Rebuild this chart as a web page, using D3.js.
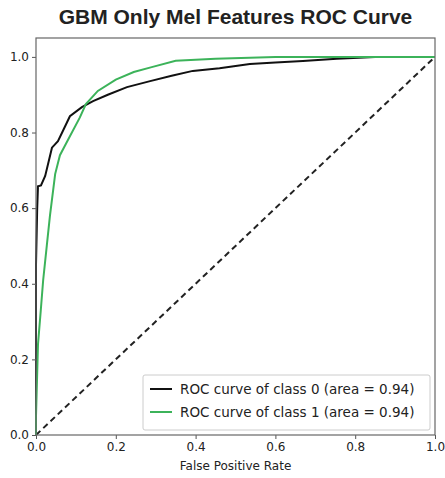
<!DOCTYPE html>
<html>
<head>
	<meta charset="utf-8">
	<script src="https://cdn.jsdelivr.net/npm/d3@7"></script>
</head>
<style type="text/css">
	body {margin:0; background:#fff;}
	text {font-family:"DejaVu Sans", sans-serif; fill:#222;}
</style>
<body>
</body>
</html>
<script type="text/javascript">
	var width = 445, height = 478;
	var margin = {left:36, right:10, top:38, bottom:43};

	// ROC points
	var fpr0 = [0, 0, 0.003, 0.005, 0.0125, 0.023, 0.04, 0.055, 0.07, 0.085, 0.115, 0.143, 0.18, 0.228, 0.286, 0.34, 0.393, 0.46, 0.536, 0.6, 0.669, 0.754, 0.85, 1];
	var tpr0 = [0, 0.45, 0.6, 0.658, 0.66, 0.685, 0.76, 0.777, 0.81, 0.843, 0.867, 0.883, 0.9, 0.92, 0.936, 0.95, 0.963, 0.97, 0.981, 0.985, 0.989, 0.995, 1, 1];
	var fpr1 = [0, 0, 0.005, 0.012, 0.018, 0.027, 0.035, 0.048, 0.06, 0.08, 0.11, 0.125, 0.155, 0.2, 0.245, 0.29, 0.35, 0.45, 0.6, 1];
	var tpr1 = [0, 0.05, 0.24, 0.33, 0.41, 0.5, 0.58, 0.69, 0.74, 0.78, 0.84, 0.875, 0.91, 0.94, 0.96, 0.973, 0.99, 0.995, 1, 1];
	var labels = ["ROC curve of class 0 (area = 0.94)", "ROC curve of class 1 (area = 0.94)"];
	var colors = ["#111111", "#3cb35a"];
	var ticks = [0, 0.2, 0.4, 0.6, 0.8, 1.0];

	var w = width - margin.left - margin.right;
	var h = height - margin.top - margin.bottom;
	var svg = d3.select("body").append("svg").attr("width", width).attr("height", height);
	var g = svg.append("g").attr("transform", "translate(" + margin.left + "," + margin.top + ")");

	var x = d3.scaleLinear().domain([0, 1]).range([0, w]);
	var y = d3.scaleLinear().domain([0, 1.05]).range([h, 0]);

	var line = d3.line().x(function(d){return x(d[0])}).y(function(d){return y(d[1])});

	// diagonal
	g.append("path").datum([[0,0],[1,1]]).attr("d", line)
		.attr("fill", "none").attr("stroke", "#222").attr("stroke-width", 2).attr("stroke-dasharray", "6,4");

	var curves = [d3.zip(fpr0, tpr0), d3.zip(fpr1, tpr1)];
	g.selectAll("path.roc").data(curves).enter().append("path").attr("class", "roc")
		.attr("d", line).attr("fill", "none")
		.attr("stroke", function(d, i){return colors[i]}).attr("stroke-width", 2);

	var xa = g.append("g").attr("transform", "translate(0," + h + ")")
		.call(d3.axisBottom(x).tickValues(ticks).tickFormat(d3.format(".1f")).tickSize(4).tickPadding(3));
	var ya = g.append("g")
		.call(d3.axisLeft(y).tickValues(ticks).tickFormat(d3.format(".1f")).tickSize(4).tickPadding(3));
	[xa, ya].forEach(function(a){
		a.select(".domain").remove();
		a.selectAll("line").attr("stroke", "#555");
		a.selectAll("text").attr("font-size", 12).attr("fill", "#333").style("font-family", "DejaVu Sans");
	});

	// frame
	g.append("rect").attr("width", w).attr("height", h).attr("fill", "none").attr("stroke", "#666").attr("stroke-width", 1.2);

	// legend
	var lg = g.append("g").attr("transform", "translate(" + (w - 292) + "," + (h - 60) + ")");
	lg.append("rect").attr("width", 287).attr("height", 55).attr("rx", 2)
		.attr("fill", "#fff").attr("fill-opacity", 0.85).attr("stroke", "#ccc");
	labels.forEach(function(t, i){
		var yy = 14 + i * 23;
		lg.append("line").attr("x1", 7).attr("x2", 29).attr("y1", yy).attr("y2", yy)
			.attr("stroke", colors[i]).attr("stroke-width", 2);
		lg.append("text").attr("x", 37).attr("y", yy + 5).attr("font-size", 13.5).text(t);
	});

	svg.append("text").attr("x", margin.left + w / 2).attr("y", 24).attr("text-anchor", "middle")
		.style("font-family", "Liberation Sans").attr("font-weight", "bold").attr("font-size", 21).text("GBM Only Mel Features ROC Curve");
	svg.append("text").attr("x", margin.left + w / 2).attr("y", 470).attr("text-anchor", "middle")
		.attr("font-size", 12).text("False Positive Rate");
</script>
